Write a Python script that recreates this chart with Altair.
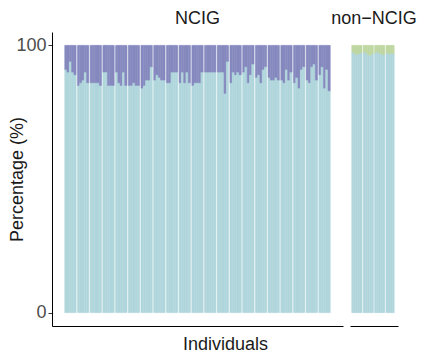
import altair as alt
import pandas as pd

# ---- data ----
components = ["Comp1", "Comp2", "Comp3"]
colors = ["#B0D6DC", "#8589BE", "#BED6A0"]

# NCIG: 21 individuals, 5 runs each; % of component 1 (rest = component 2)
ncig_comp1 = [
    [91, 90, 94, 90, 89],
    [85, 86, 87, 90, 86],
    [86, 86, 86, 86, 85],
    [90, 90, 85, 85, 85],
    [90, 86, 85, 90, 85],
    [85, 85, 86, 85, 85],
    [84, 85, 87, 87, 92],
    [87, 89, 88, 87, 87],
    [86, 86, 90, 90, 90],
    [86, 90, 86, 90, 86],
    [85, 86, 86, 86, 90],
    [90, 90, 90, 90, 90],
    [90, 90, 90, 82, 94],
    [86, 90, 89, 90, 89],
    [90, 92, 86, 89, 93],
    [88, 89, 86, 91, 92],
    [88, 87, 87, 88, 87],
    [87, 86, 91, 87, 90],
    [86, 88, 84, 91, 92],
    [87, 86, 92, 93, 87],
    [89, 92, 84, 91, 83],
]
# non-NCIG: 4 individuals; % of component 1 (rest = component 3)
non_comp1 = [
    [97.5, 97.0, 96.5, 96.8, 97.2],
    [97.5, 97.2, 96.5, 96.2, 96.8],
    [97.3, 97.5, 97.0, 96.8, 96.5],
    [97.3, 96.8, 97.0, 96.9],
]

def build(groups, other):
    rows = []
    for gi, runs in enumerate(groups):
        for ri, v in enumerate(runs):
            rows.append(dict(ind=gi, run=ri, comp=components[0], value=v, ord=0))
            rows.append(dict(ind=gi, run=ri, comp=other, value=100 - v, ord=1))
    return pd.DataFrame(rows)

df_ncig = build(ncig_comp1, components[1])
df_non = build(non_comp1, components[2])

FONT = "Liberation Sans"
color_scale = alt.Scale(domain=components, range=colors)
y_scale = alt.Scale(domain=[-5, 105], nice=False, zero=False)
off_scale = alt.Scale(domain=[0, 1, 2, 3, 4], paddingInner=0, paddingOuter=0)


def panel(df, title, width, po, first):
    if first:
        y_axis = alt.Axis(values=[0, 100], title="Percentage (%)", grid=False,
                          domainColor="#000000", tickColor="#333333", tickSize=4,
                          labelFontSize=18, labelColor="#4D4D4D", labelPadding=2,
                          labelFont=FONT, titleFont=FONT, titleFontSize=18,
                          titleFontWeight="normal", titleColor="#1A1A1A",
                          titleX=-35, titleBaseline="middle")
        x_axis = alt.Axis(title="Individuals", labels=False, ticks=False, grid=False,
                          domainColor="#000000", titleFont=FONT, titleFontSize=18,
                          titleFontWeight="normal", titleColor="#1A1A1A",
                          titleX=173, titleY=18, titleBaseline="middle", titleAlign="center")
    else:
        y_axis = None
        x_axis = alt.Axis(title=None, labels=False, ticks=False, grid=False,
                          domainColor="#000000")
    return alt.Chart(df).mark_bar(strokeWidth=0.5).encode(
        x=alt.X("ind:O", axis=x_axis,
                scale=alt.Scale(paddingInner=0.1, paddingOuter=po)),
        xOffset=alt.XOffset("run:O", scale=off_scale),
        y=alt.Y("value:Q", stack="zero", scale=y_scale, axis=y_axis),
        color=alt.Color("comp:N", scale=color_scale, legend=None),
        stroke=alt.Stroke("comp:N", scale=color_scale, legend=None),
        order=alt.Order("ord:Q"),
    ).properties(
        width=width, height=294,
        title=alt.TitleParams(title, font=FONT, fontSize=18, fontWeight="normal",
                              color="#1A1A1A", anchor="middle", offset=4),
    )

left = panel(df_ncig, "NCIG", 291, 1.0, True)
right = panel(df_non, "non\u2212NCIG", 48, 0.15, False)

chart = alt.hconcat(left, right, spacing=7, bounds="flush").resolve_scale(
    x="independent", xOffset="independent"
).properties(
    padding={"left": 8, "top": 10, "right": 0, "bottom": 0}
).configure(background="white").configure_view(stroke=None)

chart.save("out.html", embed_options={"renderer": "svg", "actions": False})
